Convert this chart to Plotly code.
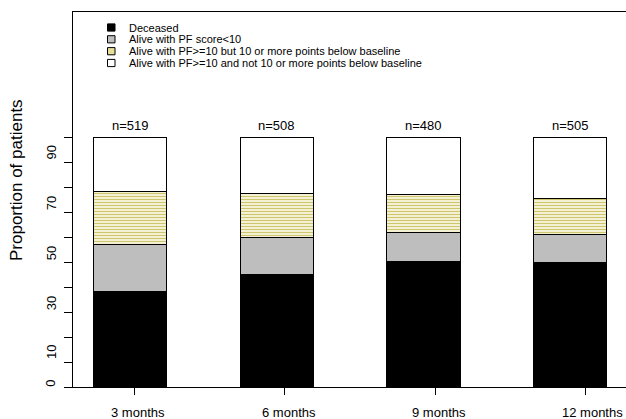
import plotly.graph_objects as go

# ---------------- data ----------------
categories = ["3 months", "6 months", "9 months", "12 months"]
n_labels = ["n=519", "n=508", "n=480", "n=505"]
series_names = [
    "Deceased",
    "Alive with PF score<10",
    "Alive with PF>=10 but 10 or more points below baseline",
    "Alive with PF>=10 and not 10 or more points below baseline",
]
deceased = [38.4, 45.1, 50.4, 50.0]
pf_lt10 = [18.8, 14.8, 11.5, 11.1]
pf_below = [20.9, 17.6, 15.2, 14.5]
pf_ok = [21.9, 22.5, 22.9, 24.4]

# y axis: tick marks every 10, labels as printed on the original
ytick_marks = [0, 10, 20, 30, 40, 50, 60, 70, 80, 90, 100]
ytick_label_pos = [1.3, 14, 33.5, 53.5, 73.5, 93.8]
ytick_labels = ["0", "10", "30", "50", "70", "90"]
# x axis tick marks and label positions (as drawn in the original)
xtick_pos = [1.56, 3.61, 5.66, 7.71]
xlabel_pos = [1.605, 3.66, 5.707, 7.80]

# ---------------- layout constants ----------------
W, H = 626, 419
ML, MR, MT, MB = 73, 0, 12, 32
PW, PH = W - ML - MR, H - MT - MB
FONT = "Liberation Sans, Arial, Helvetica, sans-serif"
XRANGE = [0.72, 8.26]

def px_x(px):
    return (px - ML) / PW

def px_y(py):
    return (H - MB - py) / PH

# barplot default positions (space = 1, width = 1)
bar_x = [1.5 + 2 * i for i in range(len(categories))]

fig = go.Figure()
fills = ["black", "#bebebe", None, "white"]
series = [deceased, pf_lt10, pf_below, pf_ok]
for name, vals, fc in zip(series_names, series, fills):
    marker = dict(line=dict(color="black", width=1))
    if fc is None:
        marker["color"] = "white"
        marker["pattern"] = dict(shape="-", fgcolor="#cec66c", bgcolor="#fbf9ea",
                                 size=3, solidity=0.45, fillmode="replace")
    else:
        marker["color"] = fc
    fig.add_trace(go.Bar(x=bar_x, y=vals, width=1, name=name, marker=marker,
                         showlegend=False, hoverinfo="skip"))

annotations = []
# n= labels above bars
for xv, t in zip(bar_x, n_labels):
    annotations.append(dict(x=xv, y=104.8, xref="x", yref="y", text=t,
                            showarrow=False, font=dict(size=13, color="black", family=FONT),
                            xanchor="center", yanchor="middle"))
# y tick labels (rotated)
for yv, t in zip(ytick_label_pos, ytick_labels):
    annotations.append(dict(x=px_x(51), y=yv, xref="paper", yref="y", text=t,
                            textangle=-90, showarrow=False,
                            font=dict(size=13, color="black", family=FONT),
                            xanchor="center", yanchor="middle"))
# x tick labels
for xv, t in zip(xlabel_pos, categories):
    annotations.append(dict(x=xv, y=px_y(413), xref="x", yref="paper", text=t,
                            showarrow=False, font=dict(size=13, color="black", family=FONT),
                            xanchor="center", yanchor="middle"))
# y axis title
annotations.append(dict(x=px_x(17), y=px_y(180), xref="paper", yref="paper",
                        text="Proportion of patients", textangle=-90, showarrow=False,
                        font=dict(size=17, color="black", family=FONT),
                        xanchor="center", yanchor="middle"))

# manual legend
shapes = []
leg_rows = [27.5, 39.3, 51.2, 63.0]
leg_fill = ["black", "#bebebe", "#e6df9a", "white"]
for ry, name, fc in zip(leg_rows, series_names, leg_fill):
    shapes.append(dict(type="rect", xref="paper", yref="paper",
                       x0=px_x(107.5), x1=px_x(115), y0=px_y(ry + 3.6), y1=px_y(ry - 3.6),
                       fillcolor=fc, line=dict(color="black", width=1)))
    annotations.append(dict(x=px_x(126.5), y=px_y(ry), xref="paper", yref="paper",
                            text=name, showarrow=False, xanchor="left", yanchor="middle",
                            font=dict(size=11, color="black", family=FONT)))

fig.update_layout(
    width=W, height=H,
    margin=dict(l=ML, r=MR, t=MT, b=MB, pad=0),
    paper_bgcolor="white", plot_bgcolor="white",
    barmode="stack", bargap=0,
    font=dict(family=FONT, size=13, color="black"),
    annotations=annotations, shapes=shapes,
    xaxis=dict(range=XRANGE, showgrid=False, zeroline=False,
               showline=True, linecolor="black", linewidth=1, mirror=True,
               ticks="outside", ticklen=7, tickcolor="black", tickwidth=1,
               tickvals=xtick_pos, showticklabels=False),
    yaxis=dict(range=[0, 150], showgrid=False, zeroline=False,
               showline=True, linecolor="black", linewidth=1, mirror=False,
               ticks="outside", ticklen=8, tickcolor="black", tickwidth=1,
               tickvals=ytick_marks, showticklabels=False),
)

fig.write_html("out.html", config={"displayModeBar": False, "staticPlot": True},
               post_script="document.body.style.margin='0';document.body.style.overflow='hidden';")
